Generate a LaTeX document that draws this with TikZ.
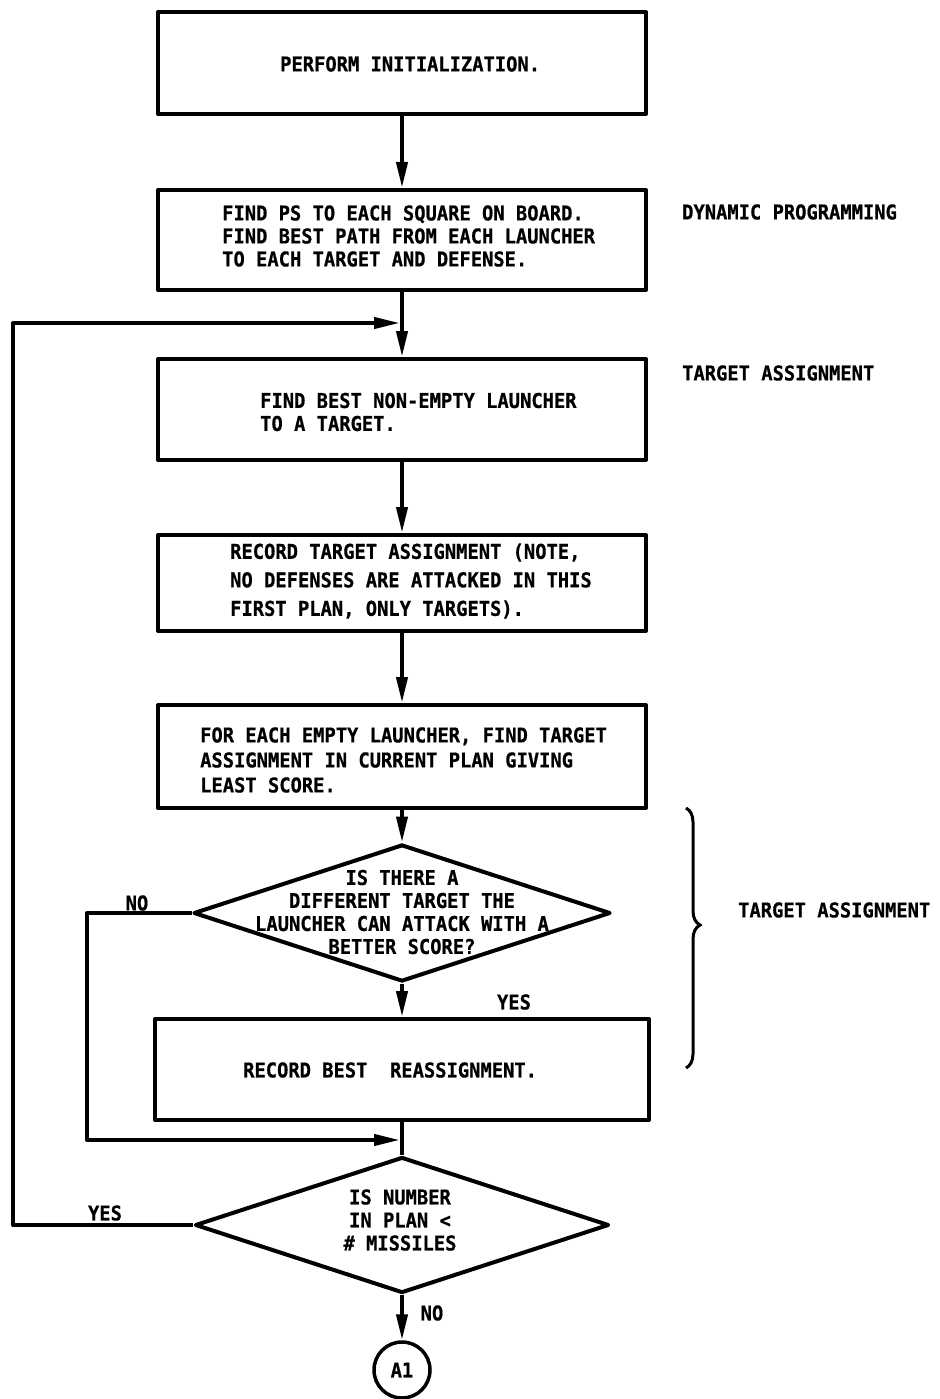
\documentclass[tikz,border=0pt]{standalone}
\usepackage{fontspec}
\setmainfont{DejaVu Sans Mono}[FakeStretch=0.92, BoldFeatures={FakeBold=0.6}]
\usetikzlibrary{arrows.meta,shapes.geometric,decorations.pathreplacing}
\begin{document}
\begin{tikzpicture}[x=1pt,y=-1pt,
  every node/.style={font=\bfseries\fontsize{20.4}{23}\selectfont},
  stepbox/.style={draw, line width=4pt, line join=round, inner sep=0pt,
    minimum width=488pt},
  decision/.style={draw, diamond, line width=4pt, line join=round,
    inner sep=0pt, minimum width=417pt, minimum height=137pt},
  boxtext/.style={anchor=west, align=left, inner sep=0pt},
  dtext/.style={align=center, inner sep=0pt},
  sidetext/.style={anchor=west, inner sep=0pt},
  tag/.style={inner sep=0pt},
  line/.style={line width=4pt, line join=round},
  flow/.style={line, -{Triangle[length=26pt,width=11pt]}},
  connector/.style={draw, circle, line width=3.5pt, minimum size=56pt, inner sep=0pt}
]
\useasboundingbox (0,0) rectangle (939,1399);

% process boxes
\node[stepbox, minimum height=102pt] (b1) at (402,63) {};
\node[stepbox, minimum height=100pt] (b2) at (402,240) {};
\node[stepbox, minimum height=101pt] (b3) at (402,409.5) {};
\node[stepbox, minimum height=96pt]  (b4) at (402,583) {};
\node[stepbox, minimum height=103pt] (b5) at (402,756.5) {};
\node[stepbox, minimum height=101pt, minimum width=494pt] (b6) at (402,1069.5) {};

% decisions
\node[decision] (d1) at (402,913) {};
\node[decision, minimum width=414pt, minimum height=136pt] (d2) at (402,1225) {};

% off-page connector
\node[connector] (a1) at (402,1370) {A1};

% box texts
\node[boxtext] (t1) at (280,64) {PERFORM INITIALIZATION.};
\node[boxtext] (t2) at (222,236) {FIND PS TO EACH SQUARE ON BOARD.\\
  FIND BEST PATH FROM EACH LAUNCHER\\TO EACH TARGET AND DEFENSE.};
\node[boxtext] (t3) at (260,412) {FIND BEST NON-EMPTY LAUNCHER\\TO A TARGET.};
\node[boxtext, font=\bfseries\fontsize{20.4}{28.5}\selectfont] (t4) at (230,581)
  {RECORD TARGET ASSIGNMENT (NOTE,\\NO DEFENSES ARE ATTACKED IN THIS\\
  FIRST PLAN, ONLY TARGETS).};
\node[boxtext, font=\bfseries\fontsize{20.4}{25}\selectfont] (t5) at (200,760)
  {FOR EACH EMPTY LAUNCHER, FIND TARGET\\ASSIGNMENT IN CURRENT PLAN GIVING\\
  LEAST SCORE.};
\node[boxtext] (t6) at (243,1070) {RECORD BEST\ \ REASSIGNMENT.};

% decision texts
\node[dtext] (t7) at (402,912) {IS THERE A\\DIFFERENT TARGET THE\\
  LAUNCHER CAN ATTACK WITH A\\BETTER SCORE?};
\node[dtext] (t8) at (400,1220) {IS NUMBER\\IN PLAN <\\\# MISSILES};

% phase notes
\node[sidetext] (s1) at (682,212) {DYNAMIC PROGRAMMING};
\node[sidetext] (s2) at (682,373) {TARGET ASSIGNMENT};
\node[sidetext] (s3) at (738,910) {TARGET ASSIGNMENT};
\draw[line width=3pt, decorate,
  decoration={brace, amplitude=14pt, aspect=0.45}] (686,808) -- (686,1068);

% branch labels
\node[tag] (n1) at (137,903) {NO};
\node[tag] (y1) at (514,1002) {YES};
\node[tag] (y2) at (105,1213) {YES};
\node[tag] (n2) at (432,1313) {NO};

% junction points on the main line
\coordinate (jA) at (402,323);
\coordinate (loopT) at (13,323);
\coordinate (jB) at (402,1140);
\coordinate (noC) at (87,1140);

% connectors
\draw[flow] (b1) -- (b2);
\draw[flow] (b2) -- (b3);
\draw[flow] (b3) -- (b4);
\draw[flow] (b4) -- (b5);
\draw[flow] (b5) -- (d1);
\draw[flow] (d1) -- (b6);
\draw[flow, shorten >=2pt] (d1.west) -| (noC) -- (jB);
\draw[line] (b6) -- (d2);
\draw[flow, shorten >=2pt] (d2.west) -| (loopT) -- (jA);
\draw[flow] (d2) -- (a1);
\end{tikzpicture}
\end{document}
